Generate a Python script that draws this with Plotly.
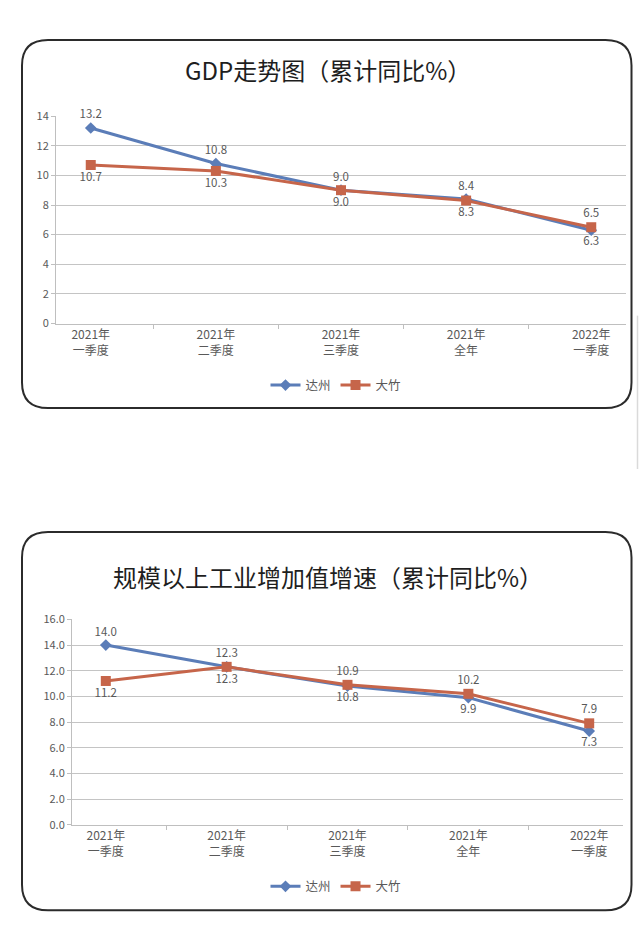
import plotly.graph_objects as go

W, H = 640, 933

categories = ["2021年<br>一季度", "2021年<br>二季度", "2021年<br>三季度", "2021年<br>全年", "2022年<br>一季度"]
series_names = ["达州", "大竹"]

gdp_dazhou = [13.2, 10.8, 9.0, 8.4, 6.3]
gdp_dazhu = [10.7, 10.3, 9.0, 8.3, 6.5]

ind_dazhou = [14.0, 12.3, 10.8, 9.9, 7.3]
ind_dazhu = [11.2, 12.3, 10.9, 10.2, 7.9]

titles = ["GDP走势图（累计同比%）", "规模以上工业增加值增速（累计同比%）"]

BLUE = "#5B7DB8"
ORANGE = "#C6654A"
GRAY_TXT = "#595959"
GRID = "#C4C4C4"
FONT = "Noto Sans CJK SC, Liberation Sans, sans-serif"
TITLE_FONT = "Noto Sans CJK SC, sans-serif"


def px_x(p):
    return p / W


def px_y(p):
    return 1 - p / H


fig = go.Figure()

label_pos = {
    ("x", "y", 0): ["top center"] * 4 + ["bottom center"],
    ("x", "y", 1): ["bottom center"] * 4 + ["top center"],
    ("x2", "y2", 0): ["top center", "top center", "bottom center", "bottom center", "bottom center"],
    ("x2", "y2", 1): ["bottom center", "bottom center", "top center", "top center", "top center"],
}

panels = [
    ("x", "y", "legend", [gdp_dazhou, gdp_dazhu]),
    ("x2", "y2", "legend2", [ind_dazhou, ind_dazhu]),
]

for xa, ya, lg, data in panels:
    for i, vals in enumerate(data):
        color = BLUE if i == 0 else ORANGE
        symbol = "diamond" if i == 0 else "square"
        msize = 9 if i == 0 else 10
        fig.add_trace(go.Scatter(
            x=categories, y=vals, name=series_names[i],
            mode="lines+markers+text",
            line=dict(color=color, width=3),
            marker=dict(color=color, symbol=symbol, size=msize),
            text=vals, texttemplate="%{y:.1f}",
            textposition=label_pos[(xa, ya, i)],
            textfont=dict(color=GRAY_TXT, size=11.5, family=FONT),
            xaxis=xa, yaxis=ya, legend=lg,
            cliponaxis=False,
        ))

common_x = dict(
    type="category", showgrid=False, showline=True, linecolor="#BFBFBF", linewidth=1,
    ticks="outside", tickson="boundaries", ticklen=4, tickcolor="#BFBFBF",
    tickfont=dict(size=12, color=GRAY_TXT, family=FONT), fixedrange=True,
)
common_y = dict(
    showgrid=True, gridcolor=GRID, gridwidth=1.3, showline=True, linecolor="#BFBFBF",
    ticks="outside", ticklen=4, tickcolor="#BFBFBF", zeroline=False,
    tickfont=dict(size=11, color=GRAY_TXT, family=FONT), fixedrange=True,
)

fig.update_layout(
    width=W, height=H, margin=dict(l=0, r=0, t=0, b=0),
    paper_bgcolor="white", plot_bgcolor="white",
    font=dict(family=FONT, color=GRAY_TXT),
    xaxis=dict(domain=[px_x(56), px_x(626)], anchor="y", **common_x),
    yaxis=dict(domain=[px_y(320), px_y(109)], anchor="x", range=[0, 14], dtick=2, **common_y),
    xaxis2=dict(domain=[px_x(72), px_x(623)], anchor="y2", **common_x),
    yaxis2=dict(domain=[px_y(830), px_y(621)], anchor="x2", range=[0, 16], dtick=2,
                tickformat=".1f", **common_y),
    legend=dict(orientation="h", x=0.525, xanchor="center", y=px_y(383), yanchor="middle",
                font=dict(size=12.5, color=GRAY_TXT, family=FONT), itemwidth=30,
                bgcolor="rgba(0,0,0,0)", tracegroupgap=0),
    legend2=dict(orientation="h", x=0.525, xanchor="center", y=px_y(893), yanchor="middle",
                 font=dict(size=12.5, color=GRAY_TXT, family=FONT), itemwidth=30,
                 bgcolor="rgba(0,0,0,0)", tracegroupgap=0),
    showlegend=True,
)


def rounded_rect(x0, y0, x1, y1, r):
    rx, ry = r / W, r / H
    X0, X1 = px_x(x0), px_x(x1)
    Y0, Y1 = px_y(y0), px_y(y1)  # Y0 top (larger), Y1 bottom
    return (f"M {X0+rx},{Y0} L {X1-rx},{Y0} Q {X1},{Y0} {X1},{Y0-ry} "
            f"L {X1},{Y1+ry} Q {X1},{Y1} {X1-rx},{Y1} "
            f"L {X0+rx},{Y1} Q {X0},{Y1} {X0},{Y1+ry} "
            f"L {X0},{Y0-ry} Q {X0},{Y0} {X0+rx},{Y0} Z")


for (x0, y0, x1, y1) in [(22, 31.5, 631.5, 406), (22, 532, 631.5, 917)]:
    fig.add_shape(type="path", path=rounded_rect(x0, y0, x1, y1, 26),
                  xref="paper", yref="paper", line=dict(color="#2B2B2B", width=2),
                  fillcolor="rgba(0,0,0,0)", layer="below")

# faint edge of a neighbouring element at the right border
fig.add_shape(type="line", x0=px_x(637.5), x1=px_x(637.5), y0=px_y(312), y1=px_y(468),
              xref="paper", yref="paper", line=dict(color="#DADADA", width=1.5))

for t, yc in zip(titles, [62, 577]):
    fig.add_annotation(text=t, x=px_x(328), y=px_y(yc), xref="paper", yref="paper",
                       showarrow=False, xanchor="center", yanchor="middle",
                       font=dict(size=24, color="#1E1E1E", family=TITLE_FONT))

fig.write_html(
    "out.html",
    config={"displayModeBar": False},
    post_script="document.body.style.margin='0';document.body.style.overflow='hidden';",
)
